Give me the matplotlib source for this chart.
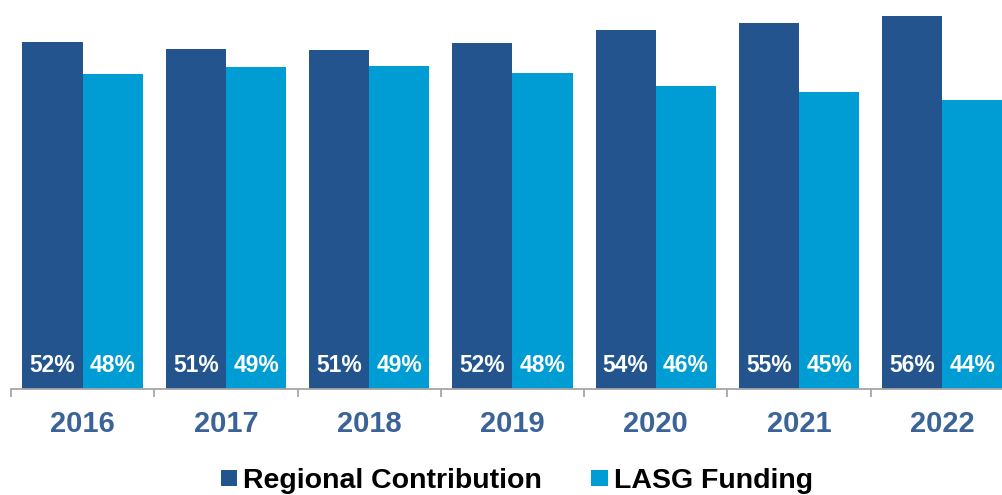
import matplotlib
matplotlib.use("Agg")
import matplotlib.pyplot as plt
import numpy as np

years = ["2016", "2017", "2018", "2019", "2020", "2021", "2022"]
regional = [52.4, 51.4, 51.25, 52.3, 54.2, 55.2, 56.3]
lasg = [47.6, 48.6, 48.75, 47.7, 45.8, 44.8, 43.7]

dark_blue = "#24548E"
light_blue = "#009CD4"
year_color = "#3B6399"

plt.rcParams["font.family"] = ["Liberation Sans", "DejaVu Sans"]

fig = plt.figure(figsize=(10.02, 4.95), dpi=100)
ax = fig.add_axes([11 / 1002, 106 / 495, 1003 / 1002, 389 / 495])

x = np.arange(len(years))
w = 0.42
b1 = ax.bar(x - w / 2, regional, w, color=dark_blue, label="Regional Contribution")
b2 = ax.bar(x + w / 2, lasg, w, color=light_blue, label="LASG Funding")

for bars, vals in [(b1, regional), (b2, lasg)]:
    for bar, v in zip(bars, vals):
        ax.text(bar.get_x() + bar.get_width() / 2, 3.6, f"{v:.0f}%",
                ha="center", va="center", color="white",
                fontsize=16.5, fontweight="bold")

ax.set_xlim(-0.5, len(years) - 0.5)
ax.set_ylim(0, 389 / 6.623)

for s in ["top", "right", "left"]:
    ax.spines[s].set_visible(False)
ax.spines["bottom"].set_color("#A6A6A6")
ax.spines["bottom"].set_linewidth(1.3)
ax.set_yticks([])

ax.set_xticks(x)
ax.set_xticklabels(years, fontsize=21, fontweight="bold", color=year_color)
ax.tick_params(axis="x", which="major", length=0, pad=15)
ax.set_xticks(np.arange(-0.5, len(years), 1.0), minor=True)
ax.tick_params(axis="x", which="minor", length=6, width=1.3, color="#A6A6A6")

fig.legend(handles=[b1, b2], loc="center", bbox_to_anchor=(516.7 / 1002, 14 / 495),
           ncol=2, frameon=False, prop={"size": 20.5, "weight": "bold"},
           handlelength=0.58, handleheight=0.5, handletextpad=0.2,
           columnspacing=1.75, borderpad=0)

fig.savefig("out.png", dpi=100)
